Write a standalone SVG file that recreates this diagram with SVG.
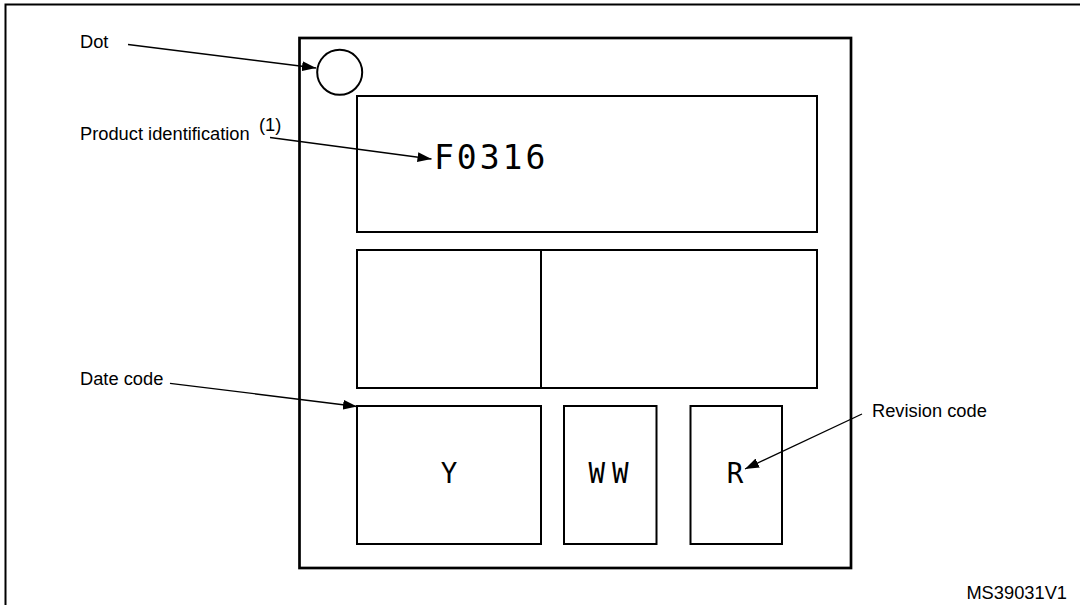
<svg xmlns="http://www.w3.org/2000/svg" width="1080" height="605" viewBox="0 0 1080 605">
<style>
.lbl{font-family:"Liberation Sans",Arial,sans-serif;font-size:18.3px;fill:#000}
.seg{font-family:"DejaVu Sans Mono",monospace;fill:#000}
.box{fill:none;stroke:#000;stroke-width:2}
.conn{fill:none;stroke:#000;stroke-width:1.3}
</style>
<defs>
<marker id="ah" viewBox="0 0 14 10" refX="14" refY="5" markerWidth="14" markerHeight="10" markerUnits="userSpaceOnUse" orient="auto">
<path d="M0,0 L14,5 L0,10 Z" fill="#000"/>
</marker>
</defs>
<rect width="1080" height="605" fill="#fff"/>
<g id="frame"><path d="M5.5,605 V4.5 H1080" fill="none" stroke="#000" stroke-width="2"/></g>
<g id="package"><rect x="299.5" y="38" width="551.5" height="530" fill="none" stroke="#000" stroke-width="2.7"/></g>
<g id="dot"><circle cx="339.7" cy="72.3" r="22.5" class="box"/></g>
<g id="product-box"><rect x="357" y="96" width="460" height="136" class="box"/>
<text class="seg" x="434" y="169" font-size="33" letter-spacing="3">F0316</text></g>
<g id="middle-box"><rect x="357" y="250" width="460" height="138" class="box"/><line x1="541" y1="250" x2="541" y2="388" class="box"/></g>
<g id="year-box"><rect x="357" y="406" width="184" height="138" class="box"/>
<text class="seg" x="449" y="483" font-size="27.5" text-anchor="middle">Y</text></g>
<g id="week-box"><rect x="564" y="406" width="92.5" height="138" class="box"/>
<text class="seg" x="612" y="483" font-size="27.5" text-anchor="middle" letter-spacing="7">WW</text></g>
<g id="rev-box"><rect x="690.5" y="406" width="91.5" height="138" class="box"/>
<text class="seg" x="735" y="483" font-size="27.5" text-anchor="middle">R</text></g>
<g id="labels">
<text class="lbl" x="80" y="48">Dot</text>
<text class="lbl" x="80" y="140">Product identification</text>
<text class="lbl" x="259" y="131" font-size="12.5">(1)</text>
<text class="lbl" x="80" y="385">Date code</text>
<text class="lbl" x="872" y="417">Revision code</text>
<text class="lbl" x="1067" y="599" font-size="15.5" text-anchor="end">MS39031V1</text>
</g>
<g id="connectors">
<line class="conn" x1="128" y1="44.5" x2="316" y2="68" marker-end="url(#ah)"/>
<line class="conn" x1="270" y1="137.5" x2="431.5" y2="159" marker-end="url(#ah)"/>
<line class="conn" x1="170" y1="383.3" x2="357" y2="406.5" marker-end="url(#ah)"/>
<line class="conn" x1="862" y1="414" x2="745" y2="469" marker-end="url(#ah)"/>
</g>
</svg>
